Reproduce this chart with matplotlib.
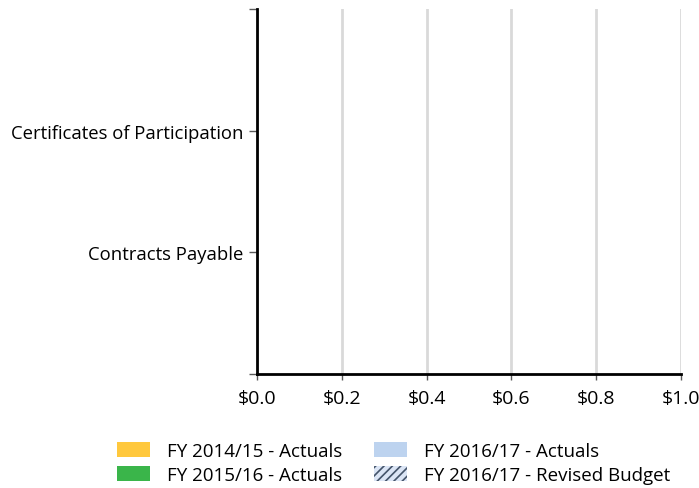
import matplotlib
matplotlib.use("Agg")
import matplotlib.pyplot as plt
from matplotlib.patches import Patch
import numpy as np

plt.rcParams['font.family'] = ['Open Sans', 'DejaVu Sans']
plt.rcParams['hatch.color'] = '#44546a'
plt.rcParams['hatch.linewidth'] = 1.2

categories = ["Certificates of Participation", "Contracts Payable"]
series_names = ["FY 2014/15 - Actuals", "FY 2015/16 - Actuals",
                "FY 2016/17 - Actuals", "FY 2016/17 - Revised Budget"]
series_values = [
    [0.0, 0.0],
    [0.0, 0.0],
    [0.0, 0.0],
    [0.0, 0.0],
]
x_ticks = [0.0, 0.2, 0.4, 0.6, 0.8, 1.0]
x_tick_labels = ["$0.0", "$0.2", "$0.4", "$0.6", "$0.8", "$1.0"]

colors = ["#ffc83d", "#3ab54a", "#bdd3ef", "#dbe5f5"]
hatches = [None, None, None, "////"]

fig = plt.figure(figsize=(6.99, 4.89), dpi=100)
ax = fig.add_axes([257/699, 1-375/489, (681-257)/699, (375-10)/489])

pos = np.arange(len(categories)) + 1.0
bw = 0.18
for i, (name, vals) in enumerate(zip(series_names, series_values)):
    ax.barh(pos + (i - 1.5) * bw, vals, height=bw, color=colors[i],
            hatch=hatches[i], edgecolor="#44546a" if hatches[i] else colors[i],
            linewidth=0, label=name)

ax.set_xlim(0, 1.0)
ax.set_ylim(3, 0)
ax.set_yticks([0, 1, 2, 3])
ax.set_yticklabels(["", categories[0], categories[1], ""], fontsize=13.3)
ax.set_xticks(x_ticks)
ax.set_xticklabels(x_tick_labels, fontsize=14)
ax.xaxis.grid(True, color="#d9d9d9", linewidth=2)
ax.set_axisbelow(True)
for s in ["top", "right"]:
    ax.spines[s].set_visible(False)
ax.spines["left"].set_linewidth(2)
ax.spines["bottom"].set_linewidth(2)
ax.spines["left"].set_color("black")
ax.spines["bottom"].set_color("black")
ax.tick_params(axis="y", length=6, width=1, color="#595959", pad=4)
ax.tick_params(axis="x", length=4, width=1, color="#595959", pad=7)

handles = [Patch(facecolor=colors[0], label=series_names[0]),
           Patch(facecolor=colors[1], label=series_names[1]),
           Patch(facecolor=colors[2], label=series_names[2]),
           Patch(facecolor=colors[3], edgecolor="#44546a", hatch="////", linewidth=0,
                 label=series_names[3])]
fig.legend(handles=handles, loc="center", bbox_to_anchor=(393.5/699, 1-464/489),
           ncol=2, frameon=False, fontsize=13.5, handlelength=1.76, handleheight=0.85,
           handletextpad=0.9, columnspacing=1.7, labelspacing=0.28,
           borderpad=0, borderaxespad=0)

fig.savefig("out.png", dpi=100)
